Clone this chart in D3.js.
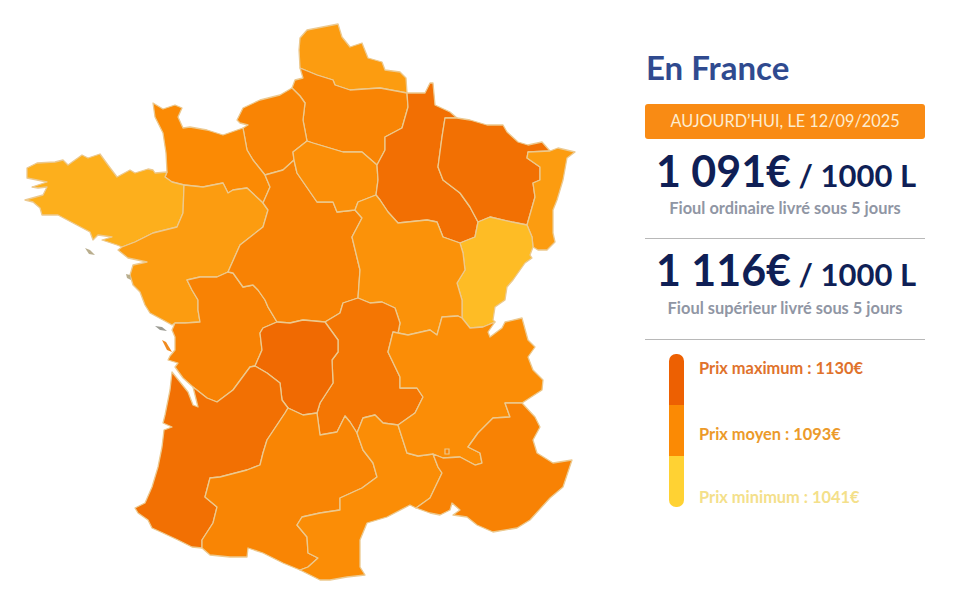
<!DOCTYPE html>
<html lang="fr">
<head>
<meta charset="utf-8">
<title>Prix du fioul en France</title>
<script src="https://cdn.jsdelivr.net/npm/d3@7"></script>
<style>
	body { margin: 0; background: #fff; }
	text { font-family: Lato, sans-serif; }
</style>
</head>
<body>
<script>
// Prix par region, estimes d'apres la teinte de chaque region
const regions = ["Nord", "Picardie", "Haute-Normandie", "Basse-Normandie", "Bretagne", "Pays de la Loire", "Poitou-Charentes", "Centre", "Ile-de-France", "Champagne", "Lorraine", "Alsace", "Franche-Comte", "Bourgogne", "Auvergne", "Limousin", "Aquitaine", "Midi-Pyrenees", "Languedoc", "Rhone-Alpes", "PACA"];
const prix = [1080, 1098, 1098, 1093, 1066, 1080, 1100, 1100, 1090, 1117, 1116, 1080, 1057, 1087, 1111, 1121, 1116, 1097, 1091, 1091, 1100];

// Frontieres partagees (facon topojson), en coordonnees carte
const arcs = {
	nord_coast: [[300,68],[299,50],[300,38],[307,30],[338,24],[342,37],[350,47],[362,43],[368,58],[382,62],[385,70],[400,72],[406,78],[407,93]],
	nord_pic: [[300,68],[317,75],[333,80],[335,85],[350,90],[380,88],[407,93]],
	pic_coast: [[300,68],[303,78],[295,80],[292,88]],
	pic_hn: [[292,88],[300,96],[305,103],[303,120],[307,141]],
	pic_idf: [[307,141],[313,143],[343,152],[362,152],[377,165]],
	pic_cha: [[407,93],[408,107],[402,128],[385,137],[385,150],[377,165]],
	hn_coast: [[292,88],[280,95],[260,100],[243,108],[237,120],[240,123],[248,125],[243,128]],
	hn_bn: [[243,128],[247,150],[253,160],[265,175]],
	hn_cen: [[265,175],[283,170],[294,160]],
	hn_idf: [[294,160],[293,152],[307,141]],
	bn_coast: [[243,128],[223,135],[207,130],[190,127],[183,128],[178,117],[182,108],[175,105],[163,109],[153,103],[155,117],[163,133],[166,153],[167,172]],
	bn_bre: [[167,172],[165,177],[172,182],[184,185]],
	bn_pdl: [[184,185],[203,187],[223,183],[228,193],[233,190],[247,188],[263,203]],
	bn_cen: [[263,203],[270,187],[265,175]],
	bre_coast: [[167,172],[155,173],[153,170],[148,169],[135,173],[130,170],[117,177],[108,165],[100,154],[88,158],[82,155],[68,165],[63,160],[55,162],[37,163],[27,168],[27,178],[47,182],[32,187],[38,188],[47,187],[43,195],[25,200],[33,202],[40,208],[42,215],[58,215],[73,223],[90,232],[93,240],[98,235],[112,237],[102,240],[117,245],[122,247]],
	bre_pdl: [[122,247],[135,242],[153,233],[177,227],[183,213],[184,185]],
	pdl_coast: [[122,247],[118,250],[128,258],[147,262],[133,265],[130,275],[133,285],[140,292],[145,305],[150,313],[163,320],[172,325],[175,323]],
	pdl_poi: [[175,323],[185,323],[200,322],[198,310],[198,300],[192,290],[187,280],[200,277],[217,277],[228,272]],
	pdl_cen: [[228,272],[240,245],[263,227],[268,210],[263,203]],
	poi_coast: [[175,323],[172,330],[175,337],[175,350],[170,356],[168,360],[178,363],[175,367],[183,378],[193,387]],
	poi_aq: [[193,387],[207,398],[217,402],[233,390],[250,367],[255,366]],
	poi_lim: [[255,366],[262,350],[260,333],[263,328],[277,322]],
	poi_cen: [[228,272],[233,273],[243,287],[253,285],[258,290],[265,300],[268,307],[277,322]],
	cen_lim: [[277,322],[290,323],[303,320],[325,322]],
	cen_auv: [[325,322],[340,313],[343,303],[358,298]],
	cen_bou: [[358,298],[360,270],[352,237],[362,218],[355,210]],
	cen_idf: [[355,210],[337,212],[333,202],[317,202],[297,173],[294,160]],
	idf_cha: [[377,165],[378,180],[376,195]],
	idf_bou: [[376,195],[358,202],[355,210]],
	cha_coast: [[407,93],[425,93],[430,83],[433,83],[435,105],[450,112],[457,118]],
	cha_lor: [[457,118],[445,118],[442,137],[438,167],[443,180],[460,193],[470,207],[478,222]],
	cha_fc: [[478,222],[475,237],[460,243]],
	cha_bou: [[376,195],[380,200],[388,212],[398,223],[427,220],[437,222],[443,237],[460,243]],
	lor_coast: [[457,118],[470,120],[487,125],[503,125],[507,132],[518,142],[528,145],[542,142],[550,151]],
	lor_als: [[550,151],[528,152],[527,158],[540,167],[540,180],[533,183],[535,197],[527,225]],
	lor_fc: [[527,225],[512,222],[490,217],[478,222]],
	als_coast: [[550,151],[558,148],[575,152],[567,158],[563,180],[557,200],[553,210],[553,233],[555,242],[547,250],[538,250],[533,247]],
	als_fc: [[527,225],[532,237],[533,247]],
	fc_coast: [[533,247],[530,255],[532,258],[525,263],[513,280],[507,287],[505,300],[495,307],[493,320],[495,322]],
	fc_ra: [[462,318],[470,328],[483,327],[495,322]],
	fc_bou: [[460,243],[463,253],[465,270],[457,283],[462,300],[462,318]],
	bou_ra: [[398,333],[408,335],[430,330],[437,335],[442,317],[458,316],[462,318]],
	bou_auv: [[358,298],[370,303],[382,302],[395,308],[400,323],[398,333]],
	auv_ra: [[398,333],[393,332],[388,352],[400,377],[400,388],[417,388],[423,397],[415,413],[398,425]],
	auv_lr: [[357,433],[363,418],[375,415],[383,423],[398,425]],
	auv_mp: [[317,413],[320,435],[337,432],[345,416],[350,422],[357,433]],
	lim_auv: [[325,322],[338,340],[338,352],[332,360],[333,383],[320,403],[317,413]],
	lim_mp: [[317,413],[303,415],[288,408]],
	lim_aq: [[288,408],[282,400],[280,383],[267,373],[255,366]],
	aq_coast: [[193,387],[195,395],[198,407],[193,405],[188,392],[180,382],[172,372],[170,390],[165,415],[163,423],[172,427],[164,430],[162,447],[158,467],[152,487],[145,503],[135,508],[138,513],[148,520],[152,528],[163,533],[178,540],[192,547],[202,548]],
	aq_mp: [[202,548],[202,540],[213,523],[217,507],[205,497],[210,478],[220,477],[247,470],[260,465],[263,453],[267,440],[285,413],[288,408]],
	mp_coast: [[202,548],[210,555],[230,557],[247,557],[248,548],[263,553],[283,563],[300,570]],
	lr_mp: [[357,433],[363,450],[373,463],[377,477],[362,488],[340,498],[340,510],[320,513],[302,517],[297,525],[307,537],[308,553],[318,558],[308,567],[300,570]],
	lr_coast: [[300,570],[320,580],[330,580],[347,577],[365,575],[360,567],[360,540],[367,523],[387,517],[410,505],[416,508]],
	lr_paca: [[433,454],[438,467],[442,473],[430,498],[416,508]],
	lr_ra: [[398,425],[407,453],[418,456],[433,454]],
	ra_paca: [[433,454],[443,458],[460,457],[475,465],[482,463],[480,453],[468,447],[478,433],[493,418],[510,417],[505,403],[522,403]],
	ra_coast: [[522,403],[542,390],[543,380],[533,370],[528,357],[535,347],[528,340],[522,318],[505,322],[502,328],[490,337],[488,332],[495,322]],
	paca_coast: [[416,508],[430,513],[440,515],[450,510],[452,503],[460,510],[453,515],[467,517],[477,525],[493,532],[517,528],[530,520],[550,498],[563,487],[572,460],[553,463],[537,453],[533,440],[540,427],[535,417],[522,403]]
};

// Contour de chaque region : "-" veut dire arc parcouru a l'envers
const contours = [
	["nord_coast", "-nord_pic"],
	["pic_coast", "pic_hn", "pic_idf", "-pic_cha", "-nord_pic"],
	["hn_coast", "hn_bn", "hn_cen", "hn_idf", "-pic_hn"],
	["bn_coast", "bn_bre", "bn_pdl", "bn_cen", "-hn_bn"],
	["bre_coast", "bre_pdl", "-bn_bre"],
	["pdl_coast", "pdl_poi", "pdl_cen", "-bn_pdl", "-bre_pdl"],
	["poi_coast", "poi_aq", "poi_lim", "-poi_cen", "-pdl_poi"],
	["poi_cen", "cen_lim", "cen_auv", "cen_bou", "cen_idf", "-hn_cen", "-bn_cen", "-pdl_cen"],
	["hn_idf", "pic_idf", "idf_cha", "idf_bou", "cen_idf"],
	["cha_coast", "cha_lor", "cha_fc", "-cha_bou", "-idf_cha", "-pic_cha"],
	["lor_coast", "lor_als", "lor_fc", "-cha_lor"],
	["als_coast", "-als_fc", "-lor_als"],
	["-lor_fc", "als_fc", "fc_coast", "-fc_ra", "-fc_bou", "-cha_fc"],
	["cha_bou", "fc_bou", "-bou_ra", "-bou_auv", "cen_bou", "-idf_bou"],
	["cen_auv", "bou_auv", "auv_ra", "-auv_lr", "-auv_mp", "-lim_auv"],
	["poi_lim", "cen_lim", "lim_auv", "lim_mp", "lim_aq"],
	["aq_coast", "aq_mp", "lim_aq", "-poi_aq"],
	["-aq_mp", "mp_coast", "-lr_mp", "-auv_mp", "lim_mp"],
	["lr_mp", "lr_coast", "-lr_paca", "-lr_ra", "-auv_lr"],
	["auv_ra", "lr_ra", "ra_paca", "ra_coast", "-fc_ra", "-bou_ra"],
	["lr_paca", "paca_coast", "-ra_paca"]
];

// Iles et enclave, dessinees a part
const iles = [
	{ fond: "#b9ae8e", points: [[85,248],[90,250],[95,255],[89,254]] },
	{ fond: "#b9ae8e", points: [[126,274],[130,275],[131,280],[127,278]] },
	{ fond: "#9a9a92", points: [[155,326],[162,327],[167,331],[160,330]] },
	{ fond: "#f08a1e", points: [[162,340],[166,342],[172,352],[167,350]] }
];
const enclave = [[445,449],[449,449],[449,454],[445,454]];
const prixEnclave = 1100;

const titre = "En France";
const dateDuJour = "AUJOURD’HUI, LE 12/09/2025";
const fiouls = ["Fioul ordinaire livré sous 5 jours", "Fioul supérieur livré sous 5 jours"];
const montants = ["1 091€", "1 116€"];
const unite = " / 1000 L";
const legendeNoms = ["Prix maximum", "Prix moyen", "Prix minimum"];
const legendePrix = [1130, 1093, 1041];
const legendeTexte = ["#e0722c", "#ec9a2a", "#f4e08a"];

const couleur = d3.scaleLinear()
	.domain([1041, 1093, 1130])
	.range(["#ffd233", "#fb8a04", "#ed6002"]);

function anneau(liste) {
	let pts = [];
	liste.forEach((nom) => {
		let arc = nom[0] === "-" ? arcs[nom.slice(1)].slice().reverse() : arcs[nom];
		pts = pts.concat(pts.length ? arc.slice(1) : arc);
	});
	return pts;
}

const svg = d3.select("body").append("svg").attr("width", 955).attr("height", 600);
const chemin = d3.geoPath(d3.geoIdentity());
const polygone = (pts) => ({ type: "Polygon", coordinates: [pts.concat([pts[0]])] });

const carte = svg.append("g").attr("id", "carte");

carte.selectAll("path.region")
	.data(regions)
	.join("path")
	.attr("class", "region")
	.attr("d", (d, i) => chemin(polygone(anneau(contours[i]))))
	.attr("fill", (d, i) => couleur(prix[i]))
	.attr("stroke", "#ecc98f")
	.attr("stroke-width", 1.3)
	.attr("stroke-linejoin", "round");

carte.append("path")
	.attr("d", chemin(polygone(enclave)))
	.attr("fill", couleur(prixEnclave))
	.attr("stroke", "#ecc98f")
	.attr("stroke-width", 1.2);

carte.selectAll("path.ile")
	.data(iles)
	.join("path")
	.attr("class", "ile")
	.attr("d", (d) => chemin(polygone(d.points)))
	.attr("fill", (d) => d.fond);

// Panneau de droite
const panneau = svg.append("g").attr("id", "panneau");
const gauche = 645, droite = 925, milieu = (gauche + droite) / 2;

panneau.append("text")
	.attr("x", 646)
	.attr("y", 80)
	.attr("font-size", 33)
	.attr("font-weight", 700)
	.attr("fill", "#2f4a8f")
	.text(titre);

panneau.append("rect")
	.attr("x", gauche)
	.attr("y", 104)
	.attr("width", droite - gauche)
	.attr("height", 35)
	.attr("rx", 3)
	.attr("fill", "#f98b14");

panneau.append("text")
	.attr("x", milieu)
	.attr("y", 127)
	.attr("text-anchor", "middle")
	.attr("font-size", 16.3)
	.attr("fill", "#fdeccf")
	.text(dateDuJour);

const montantY = [187, 286];
const fioulY = [214, 314];
const separateurY = [238.5, 339.5];
montants.forEach((m, i) => {
	let t = panneau.append("text")
		.attr("x", milieu + 1)
		.attr("y", montantY[i])
		.attr("text-anchor", "middle")
		.attr("fill", "#0f1f56");
	t.append("tspan").attr("font-size", 43).attr("font-weight", 700).text(m);
	t.append("tspan").attr("font-size", 31).attr("font-weight", 700).text(unite);

	panneau.append("text")
		.attr("x", milieu)
		.attr("y", fioulY[i])
		.attr("text-anchor", "middle")
		.attr("font-size", 16.4)
		.attr("font-weight", 700)
		.attr("fill", "#9096a4")
		.text(fiouls[i]);

	panneau.append("line")
		.attr("x1", gauche)
		.attr("x2", droite)
		.attr("y1", separateurY[i])
		.attr("y2", separateurY[i])
		.attr("stroke", "#b8b8b8");
});

// Legende : barre a trois couleurs, bouts arrondis
const legendeY = d3.scaleBand().domain(legendeNoms).range([354, 507]);
const barreX = 669, barreL = 15;

panneau.append("clipPath")
	.attr("id", "bouts")
	.append("rect")
	.attr("x", barreX)
	.attr("y", 354)
	.attr("width", barreL)
	.attr("height", 153)
	.attr("rx", 7);

panneau.append("g")
	.attr("clip-path", "url(#bouts)")
	.selectAll("rect")
	.data(legendeNoms)
	.join("rect")
	.attr("x", barreX)
	.attr("y", (d) => legendeY(d))
	.attr("width", barreL)
	.attr("height", legendeY.bandwidth())
	.attr("fill", (d, i) => couleur(legendePrix[i]));

const labelsY = [374, 440, 503];
panneau.selectAll("text.legende")
	.data(legendeNoms)
	.join("text")
	.attr("class", "legende")
	.attr("x", 699)
	.attr("y", (d, i) => labelsY[i])
	.attr("font-size", 16.4)
	.attr("font-weight", 700)
	.attr("fill", (d, i) => legendeTexte[i])
	.text((d, i) => d + " : " + legendePrix[i] + "€");
</script>
</body>
</html>
